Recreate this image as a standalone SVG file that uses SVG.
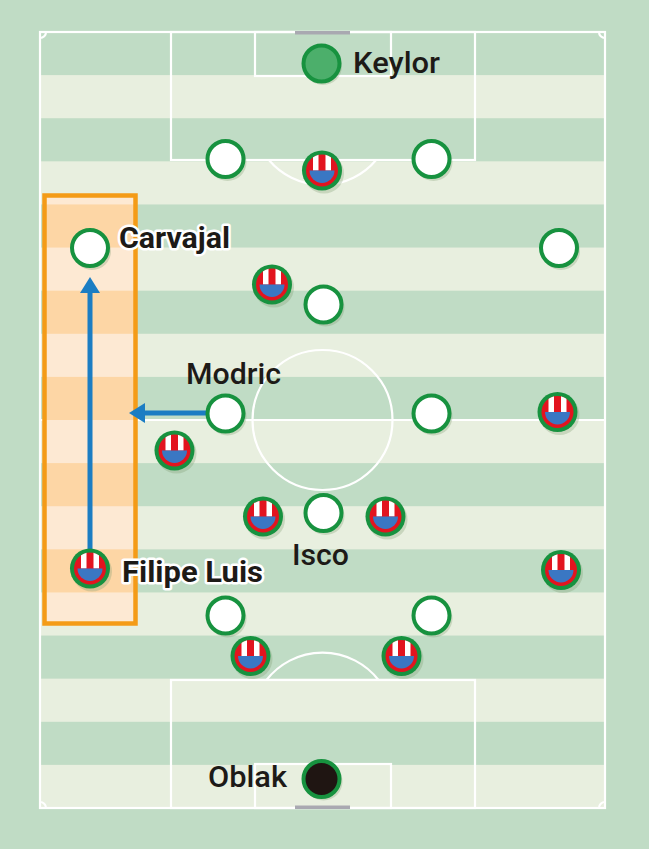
<svg xmlns="http://www.w3.org/2000/svg" xmlns:xlink="http://www.w3.org/1999/xlink" width="649" height="849" viewBox="0 0 649 849">
<style>
.ln{fill:none;stroke:#ffffff;stroke-width:2.2}
.ls{fill:#e8efdf}
.os{fill:#fde9d3}
.lbl{font-family:Roboto,"Liberation Sans",sans-serif;font-size:30px;font-weight:500;fill:#1d1a17}
.halo{font-weight:700;stroke:#ffffff;stroke-width:5;stroke-linejoin:round;paint-order:stroke}
.arr{stroke:#1b7dc3;stroke-width:5;fill:none}
</style>
<defs>
<clipPath id="redclip"><circle cx="0" cy="0" r="16"/></clipPath>
<clipPath id="boxclip"><rect x="44.5" y="195.5" width="91" height="428"/></clipPath>
<marker id="ah" viewBox="0 0 16 20" refX="0" refY="10" markerWidth="16" markerHeight="20" markerUnits="userSpaceOnUse" orient="auto">
<path d="M0,0 L16,10 L0,20 Z" fill="#1b7dc3"/>
</marker>
<g id="rm">
<circle cx="2" cy="3" r="19" fill="#7d9a6f" opacity="0.3"/>
<circle cx="0" cy="0" r="18" fill="#ffffff" stroke="#17923f" stroke-width="4"/>
</g>
<g id="atm">
<circle cx="2" cy="3" r="20" fill="#7d9a6f" opacity="0.3"/>
<circle cx="0" cy="0" r="20" fill="#17923f"/>
<circle cx="0" cy="0" r="16" fill="#e2141f"/>
<g clip-path="url(#redclip)">
<rect x="-9" y="-17" width="5.5" height="17" fill="#ffffff"/>
<rect x="3.5" y="-17" width="5.5" height="17" fill="#ffffff"/>
</g>
<path d="M-12.5,0 A12.5,12.5 0 0 0 12.5,0 Z" fill="#3a77c3"/>
</g>
</defs>

<g id="pitch">
<rect x="0" y="0" width="649" height="849" fill="#c0dcc5"/>
<rect class="ls" x="40" y="75.11" width="565" height="43.11"/>
<rect class="ls" x="40" y="161.33" width="565" height="43.11"/>
<rect class="ls" x="40" y="247.56" width="565" height="43.11"/>
<rect class="ls" x="40" y="333.78" width="565" height="43.11"/>
<rect class="ls" x="40" y="420" width="565" height="43.11"/>
<rect class="ls" x="40" y="506.22" width="565" height="43.11"/>
<rect class="ls" x="40" y="592.44" width="565" height="43.11"/>
<rect class="ls" x="40" y="678.67" width="565" height="43.11"/>
<rect class="ls" x="40" y="764.89" width="565" height="43.11"/>
<rect class="ln" x="40" y="32" width="565" height="776"/>
<line class="ln" x1="40" y1="420" x2="605" y2="420"/>
<circle class="ln" cx="322.5" cy="420" r="70"/>
<rect class="ln" x="171" y="32" width="304" height="128"/>
<rect class="ln" x="255" y="32" width="136" height="44"/>
<path class="ln" d="M268.9,160 A70,70 0 0 0 376.1,160"/>
<rect class="ln" x="171" y="680" width="304" height="128"/>
<rect class="ln" x="255" y="764" width="136" height="44"/>
<path class="ln" d="M266.5,680 A71,71 0 0 1 378.5,680"/>
<path class="ln" d="M40,38 A6,6 0 0 0 46,32"/>
<path class="ln" d="M599,32 A6,6 0 0 0 605,38"/>
<path class="ln" d="M40,802 A6,6 0 0 1 46,808"/>
<path class="ln" d="M599,808 A6,6 0 0 1 605,802"/>
<rect x="295" y="31" width="55" height="3.5" fill="#a9a9b1"/>
<rect x="295" y="805.5" width="55" height="3.5" fill="#a9a9b1"/>
</g>

<g id="highlight">
<rect x="44.5" y="195.5" width="91" height="428" fill="#fdd6a5"/>
<g clip-path="url(#boxclip)">
<rect class="os" x="40" y="161.33" width="100" height="43.11"/>
<rect class="os" x="40" y="247.56" width="100" height="43.11"/>
<rect class="os" x="40" y="333.78" width="100" height="43.11"/>
<rect class="os" x="40" y="420" width="100" height="43.11"/>
<rect class="os" x="40" y="506.22" width="100" height="43.11"/>
<rect class="os" x="40" y="592.44" width="100" height="43.11"/>
</g>
<rect x="44.5" y="195.5" width="91" height="428" fill="none" stroke="#f49b17" stroke-width="4.5"/>
</g>

<g id="connectors">
<line class="arr" x1="90" y1="550" x2="90" y2="293" marker-end="url(#ah)"/>
<line class="arr" x1="207" y1="413" x2="145" y2="413" marker-end="url(#ah)"/>
</g>

<g id="keylor">
<circle cx="323" cy="66" r="19" fill="#7d9a6f" opacity="0.3"/>
<circle cx="321.5" cy="63.5" r="18" fill="#4caf6b" stroke="#17923f" stroke-width="4"/>
<text class="lbl" x="353" y="73" textLength="87" lengthAdjust="spacingAndGlyphs">Keylor</text>
</g>
<g id="rm-lcb"><use xlink:href="#rm" x="225.5" y="159"/></g>
<g id="rm-rcb"><use xlink:href="#rm" x="431.5" y="159"/></g>
<g id="carvajal"><use xlink:href="#rm" x="90" y="248"/><text class="lbl halo" x="119" y="248" textLength="111" lengthAdjust="spacingAndGlyphs">Carvajal</text></g>
<g id="rm-lb"><use xlink:href="#rm" x="559" y="248"/></g>
<g id="rm-dm"><use xlink:href="#rm" x="323.5" y="304.5"/></g>
<g id="modric"><use xlink:href="#rm" x="225.5" y="413.5"/><text class="lbl" x="186" y="384" textLength="95" lengthAdjust="spacingAndGlyphs">Modric</text></g>
<g id="rm-cm"><use xlink:href="#rm" x="431.5" y="413.5"/></g>
<g id="isco"><use xlink:href="#rm" x="323.5" y="513"/><text class="lbl" x="292" y="565" textLength="57" lengthAdjust="spacingAndGlyphs">Isco</text></g>
<g id="rm-lw"><use xlink:href="#rm" x="225.5" y="615.5"/></g>
<g id="rm-rw"><use xlink:href="#rm" x="431.5" y="615.5"/></g>

<g id="atm-st"><use xlink:href="#atm" x="322" y="170.5"/></g>
<g id="atm-st2"><use xlink:href="#atm" x="272" y="284.5"/></g>
<g id="atm-rm"><use xlink:href="#atm" x="557.5" y="412"/></g>
<g id="atm-lm"><use xlink:href="#atm" x="174.5" y="450.5"/></g>
<g id="atm-cm1"><use xlink:href="#atm" x="263" y="516.5"/></g>
<g id="atm-cm2"><use xlink:href="#atm" x="385.5" y="516.5"/></g>
<g id="filipe-luis"><use xlink:href="#atm" x="90" y="568.5"/><text class="lbl halo" x="122" y="582" textLength="141" lengthAdjust="spacingAndGlyphs">Filipe Luis</text></g>
<g id="atm-rb"><use xlink:href="#atm" x="561" y="570"/></g>
<g id="atm-cb1"><use xlink:href="#atm" x="250.5" y="656"/></g>
<g id="atm-cb2"><use xlink:href="#atm" x="401.5" y="656"/></g>

<g id="oblak">
<circle cx="323.5" cy="781.5" r="19" fill="#7d9a6f" opacity="0.3"/>
<circle cx="321.5" cy="779" r="18" fill="#1f1512" stroke="#17923f" stroke-width="4"/>
<text class="lbl" x="208" y="787" textLength="79" lengthAdjust="spacingAndGlyphs">Oblak</text>
</g>
</svg>
